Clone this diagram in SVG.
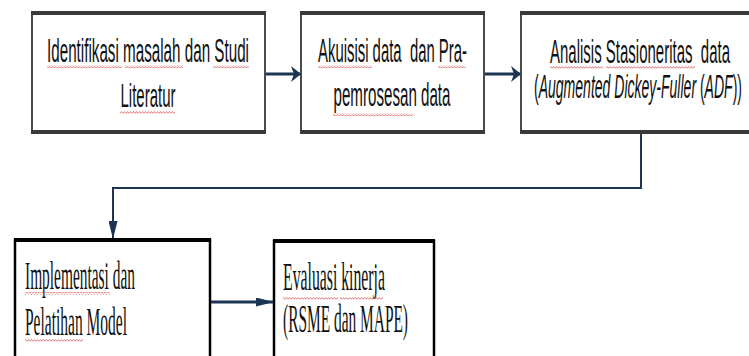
<svg xmlns="http://www.w3.org/2000/svg" width="749" height="356" viewBox="0 0 749 356">
<style>
.bg{fill:#fff}
.b1{fill:#fff;stroke:#4a4a4a;stroke-width:2}
.b1t{stroke:#3a3a3a;stroke-width:4}
.b2{fill:#fff;stroke:#000;stroke-width:2.5}
.b2t{stroke:#000;stroke-width:4}
.s{font-family:"Liberation Sans",Arial,sans-serif;font-size:33px;fill:#111}
.r{font-family:"Liberation Serif","Times New Roman",serif;font-size:39px;fill:#111}
.c{fill:none;stroke:#1c3554;stroke-width:3}
.c2{fill:none;stroke:#1c3554;stroke-width:2}
.w{fill:url(#wavy)}
</style>
<defs>
<pattern id="wavy" patternUnits="userSpaceOnUse" width="3" height="3">
<path d="M0 2.5 L1.5 0.5 L3 2.5" fill="none" stroke="#e46a6a" stroke-width="0.9"/>
</pattern>
<marker id="ah" markerUnits="userSpaceOnUse" markerWidth="10" markerHeight="16" refX="9" refY="8" orient="auto">
<path d="M0 0 L10 8 L0 16 L3 8 Z" fill="#1c3554"/>
</marker>
<marker id="av" markerUnits="userSpaceOnUse" markerWidth="18" markerHeight="9" refX="17" refY="4.5" orient="auto">
<path d="M0 0 L18 4.5 L0 9 Z" fill="#1c3554"/>
</marker>
</defs>
<rect class="bg" x="0" y="0" width="749" height="356"/>

<g id="node1">
<rect class="b1" x="32" y="13" width="233" height="120"/>
<line class="b1t" x1="31" y1="13" x2="266" y2="13"/>
<line class="b1t" x1="31" y1="132" x2="266" y2="132"/>
<text class="s" x="148" y="62" text-anchor="middle" textLength="202" lengthAdjust="spacingAndGlyphs">Identifikasi masalah dan Studi</text>
<text class="s" x="148" y="107" text-anchor="middle" textLength="55" lengthAdjust="spacingAndGlyphs">Literatur</text>
<rect class="w" x="47" y="65" width="75" height="3"/>
<rect class="w" x="125" y="65" width="58" height="3"/>
<rect class="w" x="213" y="65" width="36" height="3"/>
<rect class="w" x="120" y="111" width="55" height="3"/>
</g>

<g id="node2">
<rect class="b1" x="301" y="13" width="183" height="120"/>
<line class="b1t" x1="300" y1="13" x2="485" y2="13"/>
<line class="b1t" x1="300" y1="132" x2="485" y2="132"/>
<text class="s" x="392.5" y="62" text-anchor="middle" textLength="149" lengthAdjust="spacingAndGlyphs" xml:space="preserve">Akuisisi data  dan Pra-</text>
<text class="s" x="392" y="106" text-anchor="middle" textLength="117" lengthAdjust="spacingAndGlyphs">pemrosesan data</text>
<rect class="w" x="318" y="65" width="54" height="3"/>
<rect class="w" x="438" y="65" width="28" height="3"/>
<rect class="w" x="333" y="113" width="80" height="3"/>
</g>

<g id="node3">
<rect class="b1" x="521" y="13" width="240" height="120"/>
<line class="b1t" x1="520" y1="13" x2="760" y2="13"/>
<line class="b1t" x1="520" y1="132" x2="760" y2="132"/>
<text class="s" x="640" y="63" text-anchor="middle" textLength="180" lengthAdjust="spacingAndGlyphs" xml:space="preserve">Analisis Stasioneritas  data</text>
<text class="s" x="638" y="98" text-anchor="middle" textLength="208" lengthAdjust="spacingAndGlyphs">(<tspan font-style="italic">Augmented Dickey-Fuller</tspan> (<tspan font-style="italic">ADF</tspan>))</text>
<rect class="w" x="550" y="66" width="53" height="3"/>
<rect class="w" x="606" y="66" width="89" height="3"/>
</g>

<g id="node4">
<rect class="b2" x="15" y="240" width="195" height="130"/>
<line class="b2t" x1="14" y1="240" x2="211" y2="240"/>
<text class="r" x="25" y="289" textLength="110" lengthAdjust="spacingAndGlyphs">Implementasi dan</text>
<text class="r" x="25" y="335" textLength="102" lengthAdjust="spacingAndGlyphs">Pelatihan Model</text>
<rect class="w" x="25" y="292" width="85" height="3"/>
<rect class="w" x="25" y="339" width="58" height="3"/>
</g>

<g id="node5">
<rect class="b2" x="274" y="241" width="160" height="130"/>
<line class="b2t" x1="273" y1="241" x2="435" y2="241"/>
<text class="r" x="283" y="290" textLength="102" lengthAdjust="spacingAndGlyphs">Evaluasi kinerja</text>
<text class="r" x="283" y="332" textLength="125" lengthAdjust="spacingAndGlyphs">(RSME dan MAPE)</text>
<rect class="w" x="283" y="297" width="55" height="3"/>
<rect class="w" x="340" y="297" width="43" height="3"/>
</g>

<g id="connectors">
<line class="c" x1="266" y1="74" x2="300" y2="74" marker-end="url(#ah)"/>
<line class="c" x1="485" y1="74" x2="520" y2="74" marker-end="url(#ah)"/>
<polyline class="c2" points="641,134 641,188 113,188 113,238" marker-end="url(#av)"/>
<line class="c" x1="211" y1="302" x2="273" y2="302" marker-end="url(#av)"/>
</g>
</svg>
